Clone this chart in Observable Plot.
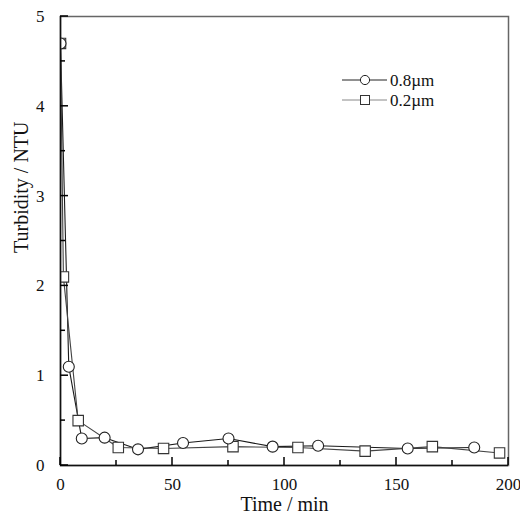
<!DOCTYPE html>
<html><head><meta charset="utf-8">
<script src="https://cdn.jsdelivr.net/npm/d3@7"></script>
<script src="https://cdn.jsdelivr.net/npm/@observablehq/plot@0.6"></script>
<style>
body{margin:0;background:#fff;font-family:"Liberation Serif","Times New Roman",serif;}
#wrap{position:relative;width:520px;height:522px;}
#legend{position:absolute;left:338px;top:68px;}
</style></head><body>
<div id="wrap"><div id="chart"></div>
<svg id="legend" width="120" height="44" font-family="Liberation Serif" font-size="17">
  <line x1="4" x2="49" y1="12" y2="12" stroke="#222" stroke-width="1"/>
  <circle cx="27" cy="12" r="4.6" fill="#fff" stroke="#222" stroke-width="1"/>
  <text x="52" y="12" dy="0.35em" fill="#111"></text>
  <line x1="4" x2="49" y1="32" y2="32" stroke="#888" stroke-width="1"/>
  <rect x="22.5" y="27.5" width="9" height="9" fill="#fff" stroke="#333" stroke-width="1"/>
  <text x="52" y="32" dy="0.35em" fill="#111"></text>
</svg>
</div>
<script>
const seriesNames = ["0.8\u00b5m", "0.2\u00b5m"];
const time08 = [0, 3.7, 9.5, 19.7, 34.6, 54.7, 75, 94.7, 115, 155, 184.7];
const turb08 = [4.7, 1.1, 0.3, 0.31, 0.18, 0.25, 0.3, 0.21, 0.22, 0.19, 0.2];
const time02 = [0, 1.3, 7.9, 25.8, 46, 77, 106, 136, 166, 196];
const turb02 = [4.7, 2.1, 0.5, 0.2, 0.19, 0.21, 0.2, 0.16, 0.21, 0.14];
const xMajor = [0, 50, 100, 150, 200];
const xMinor = [25, 75, 125, 175];
const yMajor = [0, 1, 2, 3, 4, 5];
const yMinor = [0.5, 1.5, 2.5, 3.5, 4.5];
const xTitle = "Time / min";
const yTitle = "Turbidity / NTU";

const rows08 = time08.map((t, i) => ({t, v: turb08[i]}));
const rows02 = time02.map((t, i) => ({t, v: turb02[i]}));

const legendTexts = document.querySelectorAll("#legend text");
legendTexts[0].textContent = seriesNames[0];
legendTexts[1].textContent = seriesNames[1];

const plot = Plot.plot({
  width: 520, height: 522,
  marginLeft: 60, marginRight: 12, marginTop: 16, marginBottom: 57,
  style: {fontFamily: "Liberation Serif", fontSize: "17px", color: "#111", background: "#fff"},
  x: {domain: [0, 200]},
  y: {domain: [0, 5]},
  marks: [
    Plot.line(rows08, {x: "t", y: "v", stroke: "#1a1a1a", strokeWidth: 1.1, clip: true}),
    Plot.line(rows02, {x: "t", y: "v", stroke: "#444", strokeWidth: 1.1, clip: true}),
    Plot.dot(rows02, {x: "t", y: "v", symbol: "square", r: 5.9, fill: "white", stroke: "#333", strokeWidth: 1.1, clip: true}),
    Plot.dot(rows08, {x: "t", y: "v", symbol: "circle", r: 5.5, fill: "white", stroke: "#222", strokeWidth: 1.1, clip: true}),
    Plot.frame({stroke: "#666", strokeWidth: 1.5}),
    Plot.ruleX([0], {stroke: "#111", strokeWidth: 1.5}),
    Plot.ruleY([0], {stroke: "#111", strokeWidth: 1.5}),
    Plot.axisX({ticks: xMajor, tickSize: 0, tickPadding: 12, tickFormat: d3.format("d"), label: null, fontSize: 17}),
    Plot.axisY({ticks: yMajor, tickSize: 0, tickPadding: 16, tickFormat: d3.format("d"), label: null, fontSize: 17}),
    Plot.text([xTitle], {frameAnchor: "bottom", dy: 45, fontSize: 20, fill: "#111"}),
    Plot.text([yTitle], {frameAnchor: "left", rotate: -90, dx: -39, dy: 12, fontSize: 20, fill: "#111"})
  ]
});
document.getElementById("chart").appendChild(plot);

// inward ticks, placed with the plot's own scales and appended on top
const sx = plot.scale("x"), sy = plot.scale("y");
const x0 = sx.apply(0), y0 = sy.apply(0);
const tg = d3.select(plot).append("g").attr("stroke", "#000").attr("stroke-width", 1.5);
tg.selectAll(".xt").data(xMajor.map(v => [v, 8]).concat(xMinor.map(v => [v, 5]))).join("line")
  .attr("x1", d => sx.apply(d[0])).attr("x2", d => sx.apply(d[0]))
  .attr("y1", y0).attr("y2", d => y0 - d[1]);
tg.selectAll(".yt").data(yMajor.map(v => [v, 8]).concat(yMinor.map(v => [v, 5]))).join("line")
  .attr("y1", d => sy.apply(d[0])).attr("y2", d => sy.apply(d[0]))
  .attr("x1", x0).attr("x2", d => x0 + d[1]);
</script>
</body></html>
